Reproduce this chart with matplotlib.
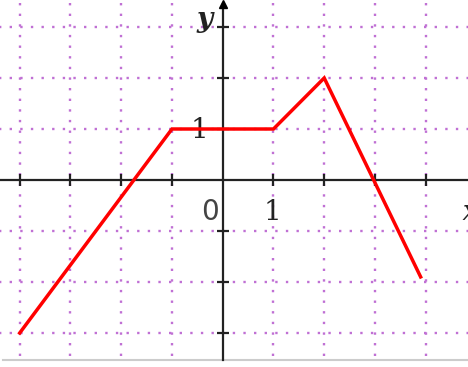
import matplotlib.pyplot as plt
import numpy as np

# piecewise graph
line_x = [-4, -1, 1, 2, 3.9]
line_y = [-3, 1, 1, 2, -1.9]

grid_x = [-4, -3, -2, -1, 1, 2, 3, 4]
grid_y = [-3, -2, -1, 1, 2, 3]
xtick_vals = [-4, -3, -2, -1, 1, 2, 3, 4]
ytick_vals = [-3, -2, -1, 1, 2, 3]

fig = plt.figure(figsize=(4.68, 3.67), dpi=100)
ax = fig.add_axes([0, 0, 1, 1])
ax.set_xlim(-222.7 / 50.75, (468 - 222.7) / 50.75)
ax.set_ylim(-(367 - 180) / 51.0, 180 / 51.0)
ax.axis('off')

grid_col = '#c070d4'
dots = (0, (1, 3.5))
ax.vlines(grid_x, -3.45, 3.55, colors=grid_col, linewidth=1.7, linestyles=[dots])
ax.hlines(grid_y, -4.5, 5, colors=grid_col, linewidth=1.7, linestyles=[dots])

axis_col = '#222222'
ax.plot([-4.5, 5], [0, 0], color=axis_col, lw=1.6, zorder=3)
ax.plot([0, 0], [-3.53, 3.45], color=axis_col, lw=1.6, zorder=3)
ax.plot([0], [3.45], marker='^', color='black', markersize=6, zorder=3)

ax.plot(xtick_vals, [0] * len(xtick_vals), ls='none', marker='|',
        markersize=8, markeredgewidth=1.6, color=axis_col, zorder=3)
ax.plot([0] * len(ytick_vals), ytick_vals, ls='none', marker='_',
        markersize=8, markeredgewidth=1.6, color=axis_col, zorder=3)

ax.plot(line_x, line_y, color='#ff0000', lw=2.5, zorder=4,
        solid_joinstyle='miter')

# bottom border
ax.plot([-4.33, 5], [-3.53, -3.53], color='#cccccc', lw=1.5, zorder=2)

tfont = dict(family='DejaVu Serif', color='#222222')
ax.text(-0.2, 3.0, 'y', ha='right', va='baseline', fontsize=20,
        style='italic', weight='bold', **tfont)
ax.text(4.72, -0.63, 'x', ha='left', va='center', fontsize=20,
        style='italic', weight='bold', **tfont)
ax.text(-0.29, 0.98, '1', ha='right', va='center', fontsize=20, **tfont)
ax.text(0.98, -0.63, '1', ha='center', va='center', fontsize=20, **tfont)
ax.text(-0.25, -0.63, '0', ha='center', va='center', fontsize=20,
        family='DejaVu Sans', color='#444444')

fig.savefig('out.png', dpi=100)
